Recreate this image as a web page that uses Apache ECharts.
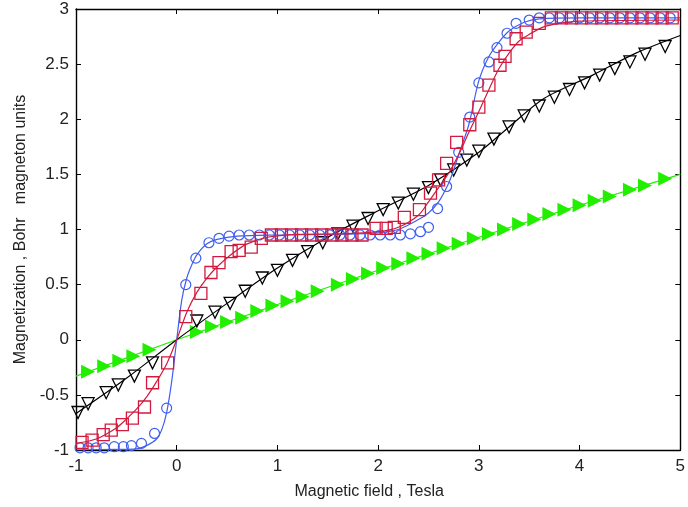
<!DOCTYPE html>
<html>
<head>
<meta charset="utf-8">
<script src="https://cdn.jsdelivr.net/npm/echarts@6/dist/echarts.min.js"></script>
<style>html,body{margin:0;padding:0;background:#fff}#c{width:688px;height:507px}</style>
</head>
<body>
<div id="c"></div>
<script>
// ---- Data ----
const xTicks = [-1, 0, 1, 2, 3, 4, 5];
const yTicks = [-1, -0.5, 0, 0.5, 1, 1.5, 2, 2.5, 3];

// Blue circles (data) and blue fit
const blueX = [-0.96,-0.88,-0.8,-0.72,-0.62,-0.53,-0.45,-0.35,-0.22,-0.10,0.09,0.19,0.32,0.42,0.52,0.62,0.72,0.82,0.92,1.02,1.12,1.22,1.32,1.42,1.52,1.62,1.72,1.82,1.92,2.02,2.12,2.22,2.32,2.42,2.50,2.59,2.68,2.80,2.91,3.0,3.1,3.18,3.28,3.37,3.5,3.6,3.7,3.8,3.9,4.0,4.1,4.2,4.3,4.4,4.5,4.6,4.7,4.8,4.9];
const blueY = [-0.98,-0.98,-0.98,-0.98,-0.97,-0.97,-0.96,-0.94,-0.85,-0.62,0.50,0.74,0.88,0.92,0.94,0.95,0.95,0.95,0.95,0.95,0.95,0.95,0.95,0.95,0.95,0.95,0.95,0.95,0.95,0.95,0.95,0.95,0.96,0.98,1.02,1.19,1.39,1.70,2.02,2.33,2.52,2.65,2.78,2.87,2.90,2.92,2.92,2.92,2.92,2.92,2.92,2.92,2.92,2.92,2.92,2.92,2.92,2.92,2.92];
const blueFitX = [-1,-0.6,-0.4,-0.3,-0.2,-0.15,-0.1,-0.05,0,0.05,0.1,0.15,0.2,0.3,0.4,0.6,1.0,1.5,2.0,2.2,2.4,2.5,2.6,2.7,2.75,2.8,2.9,3.0,3.1,3.2,3.3,3.45,3.6,4.0,5.0];
const blueFitY = [-1.0,-0.995,-0.99,-0.96,-0.9,-0.82,-0.66,-0.38,0,0.36,0.56,0.68,0.77,0.87,0.91,0.94,0.95,0.955,0.97,1.0,1.09,1.15,1.25,1.42,1.54,1.68,1.95,2.35,2.57,2.70,2.80,2.88,2.91,2.92,2.92];

// Red squares (data) and red fit
const redX = [-0.94,-0.84,-0.73,-0.65,-0.54,-0.44,-0.32,-0.24,-0.09,0.09,0.24,0.34,0.42,0.54,0.62,0.74,0.84,0.94,1.04,1.14,1.24,1.34,1.44,1.54,1.64,1.74,1.84,1.98,2.08,2.16,2.26,2.41,2.52,2.6,2.68,2.78,2.91,3.0,3.1,3.21,3.26,3.37,3.47,3.6,3.72,3.82,3.92,4.02,4.12,4.22,4.32,4.42,4.52,4.62,4.72,4.82,4.92];
const redY = [-0.93,-0.91,-0.86,-0.82,-0.77,-0.71,-0.61,-0.39,-0.21,0.21,0.42,0.61,0.70,0.80,0.81,0.84,0.92,0.95,0.95,0.95,0.95,0.95,0.95,0.95,0.95,0.95,0.95,1.01,1.01,1.02,1.11,1.18,1.33,1.45,1.60,1.79,1.95,2.11,2.31,2.49,2.57,2.73,2.79,2.87,2.92,2.92,2.92,2.92,2.92,2.92,2.92,2.92,2.92,2.92,2.92,2.92,2.92];
const redFitX = [-1,-0.8,-0.6,-0.5,-0.4,-0.3,-0.2,-0.1,0,0.1,0.2,0.3,0.4,0.55,0.7,0.9,1.2,1.6,2.0,2.2,2.4,2.5,2.6,2.7,2.8,2.9,3.0,3.1,3.2,3.3,3.4,3.5,3.65,3.8,4.0,5.0];
const redFitY = [-0.94,-0.9,-0.8,-0.72,-0.63,-0.52,-0.38,-0.22,0,0.25,0.43,0.56,0.66,0.78,0.87,0.93,0.955,0.96,0.98,1.02,1.13,1.25,1.38,1.51,1.68,1.88,2.07,2.27,2.46,2.6,2.71,2.77,2.84,2.87,2.89,2.9];

// Black open down-triangles (data) and black fit
const blackX = [-0.98,-0.88,-0.7,-0.58,-0.42,-0.24,0.2,0.38,0.53,0.68,0.85,1.0,1.15,1.3,1.45,1.6,1.75,1.9,2.05,2.2,2.35,2.5,2.62,2.75,2.88,3.0,3.15,3.3,3.45,3.6,3.75,3.9,4.05,4.2,4.35,4.5,4.65,4.85];
const blackY = [-0.66,-0.58,-0.48,-0.41,-0.33,-0.21,0.17,0.25,0.33,0.44,0.56,0.63,0.72,0.8,0.88,0.96,1.03,1.10,1.18,1.24,1.32,1.38,1.45,1.54,1.63,1.71,1.82,1.93,2.03,2.12,2.2,2.27,2.33,2.4,2.46,2.52,2.59,2.66];
const blackFitX = [-1,-0.5,0,0.5,1,1.5,2,2.5,3,3.3,3.65,4.13,4.56,5];
const blackFitY = [-0.67,-0.35,0,0.33,0.65,0.93,1.17,1.40,1.70,1.93,2.19,2.40,2.60,2.76];

// Green filled right-triangles (data) and green fit
const greenX = [-0.88,-0.72,-0.57,-0.43,-0.27,0.2,0.35,0.5,0.65,0.8,0.95,1.1,1.25,1.4,1.6,1.75,1.9,2.05,2.2,2.35,2.5,2.65,2.8,2.95,3.1,3.25,3.4,3.55,3.7,3.85,4.0,4.15,4.3,4.5,4.65,4.85];
const greenY = [-0.29,-0.24,-0.19,-0.15,-0.09,0.07,0.12,0.16,0.2,0.26,0.31,0.35,0.39,0.44,0.5,0.55,0.6,0.65,0.69,0.74,0.78,0.83,0.87,0.92,0.96,1.0,1.05,1.09,1.14,1.18,1.22,1.26,1.3,1.36,1.4,1.46];
const greenFitX = [-1,0,1,2,3,4,5];
const greenFitY = [-0.33,0,0.32,0.63,0.93,1.22,1.5];

const xName = 'Magnetic field , Tesla';
const yName = 'Magnetization , Bohr   magneton units';

// ---- Build ----
const zip = (a, b) => a.map((v, i) => [v, b[i]]);
const BLUE = '#3f5ff0', RED = '#d21a3e', BLACK = '#000000', GREEN = '#22ee00';
const FONT = '"Liberation Sans", Arial, sans-serif';

const baseAxis = {
  axisLine: { show: true, onZero: false, lineStyle: { color: '#000', width: 1.4 } },
  axisTick: { show: true, inside: true, length: 5, lineStyle: { color: '#000' } },
  splitLine: { show: false }
};

const chart = echarts.init(document.getElementById('c'), null, { renderer: 'canvas' });
chart.setOption({
  animation: false,
  backgroundColor: '#fff',
  grid: { left: 76, right: 3, top: 9, bottom: 57, containLabel: false },
  xAxis: [
    Object.assign({}, baseAxis, {
      type: 'value', min: -1, max: 5, interval: 1, position: 'bottom',
      name: xName, nameLocation: 'middle', nameGap: 34,
      nameTextStyle: { fontFamily: FONT, fontSize: 16, color: '#222', padding: [0, 18, 0, 0] },
      axisLabel: { fontFamily: FONT, fontSize: 17, color: '#222', margin: 8,
        formatter: v => xTicks.includes(v) ? String(v) : '' }
    }),
    Object.assign({}, baseAxis, {
      type: 'value', min: -1, max: 5, interval: 1, position: 'top',
      axisLabel: { show: false }
    })
  ],
  yAxis: [
    Object.assign({}, baseAxis, {
      type: 'value', min: -1, max: 3, interval: 0.5, position: 'left',
      name: yName, nameLocation: 'middle', nameGap: 46, nameRotate: 90,
      nameTextStyle: { fontFamily: FONT, fontSize: 16, color: '#222' },
      axisLabel: { fontFamily: FONT, fontSize: 17, color: '#222', margin: 7,
        formatter: v => yTicks.includes(v) ? String(v) : '' }
    }),
    Object.assign({}, baseAxis, {
      type: 'value', min: -1, max: 3, interval: 0.5, position: 'right',
      axisLabel: { show: false }
    })
  ],
  series: [
    { type: 'line', data: zip(greenFitX, greenFitY), showSymbol: false, symbol: 'none',
      lineStyle: { color: GREEN, width: 1.2 }, z: 2 },
    { type: 'scatter', data: zip(greenX, greenY), symbol: 'triangle', symbolSize: 14, symbolRotate: -90,
      itemStyle: { color: GREEN, opacity: 1 }, z: 3 },
    { type: 'line', data: zip(blackFitX, blackFitY), showSymbol: false, symbol: 'none', smooth: 0.3,
      lineStyle: { color: BLACK, width: 1.2 }, z: 4 },
    { type: 'scatter', data: zip(blackX, blackY), symbol: 'triangle', symbolSize: 12, symbolRotate: 180,
      itemStyle: { color: 'rgba(255,255,255,0)', borderColor: BLACK, borderWidth: 1.3, opacity: 1 }, z: 5 },
    { type: 'line', data: zip(blueFitX, blueFitY), showSymbol: false, symbol: 'none', smooth: 0.3,
      lineStyle: { color: BLUE, width: 1.2 }, z: 6 },
    { type: 'scatter', data: zip(blueX, blueY), symbol: 'circle', symbolSize: 10,
      itemStyle: { color: 'rgba(255,255,255,0)', borderColor: BLUE, borderWidth: 1.2, opacity: 1 }, z: 7 },
    { type: 'line', data: zip(redFitX, redFitY), showSymbol: false, symbol: 'none', smooth: 0.3,
      lineStyle: { color: RED, width: 1.2 }, z: 8 },
    { type: 'scatter', data: zip(redX, redY), symbol: 'rect', symbolSize: 12,
      itemStyle: { color: 'rgba(255,255,255,0)', borderColor: RED, borderWidth: 1.3, opacity: 1 }, z: 9 }
  ]
});
</script>
</body>
</html>
